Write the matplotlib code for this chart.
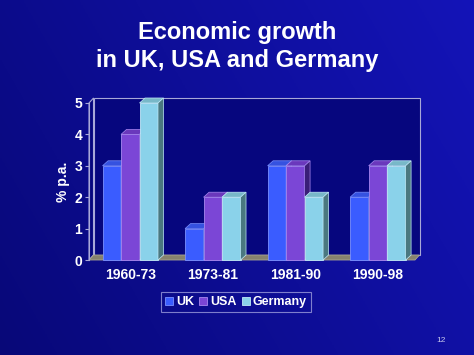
import numpy as np
import matplotlib
matplotlib.use("Agg")
import matplotlib.pyplot as plt
from matplotlib.patches import Polygon, Rectangle
from matplotlib.lines import Line2D

plt.rcParams['font.family'] = ['Liberation Sans', 'DejaVu Sans']

categories = ["1960-73", "1973-81", "1981-90", "1990-98"]
series_names = ["UK", "USA", "Germany"]
uk = [3, 1, 3, 2]
usa = [4, 2, 3, 3]
germany = [5, 2, 2, 3]
yticks = [0, 1, 2, 3, 4, 5]

values = [uk, usa, germany]
front_cols = ["#3a5cff", "#7b46d6", "#8ad2ea"]
top_cols = ["#3552e0", "#6a38bc", "#78b8c8"]
side_cols = ["#1c2a90", "#3a1e78", "#4a7880"]
edge_cols = ["#7a90ff", "#a888f0", "#c0eaf8"]

W, H = 474, 355
fig = plt.figure(figsize=(W / 100, H / 100), dpi=100)

# background gradient
bg = fig.add_axes([0, 0, 1, 1])
bg.set_axis_off()
xx, yy = np.meshgrid(np.linspace(0, 1, 200), np.linspace(0, 1, 150))
t = np.clip(0.7 * xx + 0.3 * yy, 0, 1)
c0 = np.array([0x08, 0x08, 0x78]) / 255
c1 = np.array([0x14, 0x14, 0xb8]) / 255
img = c0[None, None, :] * (1 - t[..., None]) + c1[None, None, :] * t[..., None]
bg.imshow(img, extent=[0, 1, 0, 1], aspect='auto', origin='lower')
bg.set_xlim(0, 1)
bg.set_ylim(0, 1)

left_px, right_px, bottom_px, top_px = 89, 415, 260, 103
ax = fig.add_axes([left_px / W, 1 - bottom_px / H, (right_px - left_px) / W, (bottom_px - top_px) / H])
ax.set_facecolor("none")
xmin, xmax = -0.5, 3.45
ax.set_xlim(xmin, xmax)
ax.set_ylim(0, 5)
for s in ax.spines.values():
    s.set_visible(False)

ppx = (xmax - xmin) / (right_px - left_px)
ppy = 5 / (bottom_px - top_px)
wdx, wdy = 4.5 * ppx, 5 * ppy   # wall depth
bdx, bdy = 5.5 * ppx, 5 * ppy   # bar depth

wall_edge = "#a8a8d8"
wall_face = "#06067e"
# back wall
ax.add_patch(Rectangle((xmin + wdx, wdy), xmax - xmin, 5, facecolor=wall_face,
                       edgecolor=wall_edge, lw=0.8, zorder=1, clip_on=False))
# left wall
ax.add_patch(Polygon([(xmin, 0), (xmin + wdx, wdy), (xmin + wdx, 5 + wdy), (xmin, 5)],
                     closed=True, facecolor=wall_face, edgecolor=wall_edge, lw=0.8,
                     zorder=1, clip_on=False))
# floor
ax.add_patch(Polygon([(xmin, 0), (xmax, 0), (xmax + wdx, wdy), (xmin + wdx, wdy)],
                     closed=True, facecolor="#86826e", edgecolor="#a8a494", lw=0.6,
                     zorder=2, clip_on=False))

bw = 0.224
offsets = [-bw, 0, bw]
x = np.arange(len(categories))
z = 3
for g in range(len(categories)):
    for s in range(3):
        h = values[s][g]
        xc = x[g] + offsets[s]
        ax.bar([xc], [h], width=bw, color=front_cols[s], edgecolor=edge_cols[s],
               lw=0.6, zorder=z, clip_on=False)
        x0 = xc - bw / 2
        ax.add_patch(Polygon([(x0, h), (x0 + bw, h), (x0 + bw + bdx, h + bdy), (x0 + bdx, h + bdy)],
                             closed=True, facecolor=top_cols[s], edgecolor=edge_cols[s],
                             lw=0.5, zorder=z + 0.1, clip_on=False))
        ax.add_patch(Polygon([(x0 + bw, 0), (x0 + bw + bdx, bdy), (x0 + bw + bdx, h + bdy), (x0 + bw, h)],
                             closed=True, facecolor=side_cols[s], edgecolor=edge_cols[s],
                             lw=0.5, zorder=z + 0.2, clip_on=False))
        z += 1

# front left axis line
ax.plot([xmin, xmin], [0, 5], color=wall_edge, lw=0.8, zorder=z, clip_on=False)

ax.set_yticks(yticks)
ax.set_yticklabels([str(v) for v in yticks])
ax.tick_params(axis='y', colors=wall_edge, length=3, width=0.8, pad=2,
               labelcolor='white', labelsize=10)
ax.set_xticks(x)
ax.set_xticklabels(categories)
ax.tick_params(axis='x', length=0, pad=6, labelcolor='white', labelsize=10)
for lab in ax.get_xticklabels() + ax.get_yticklabels():
    lab.set_fontweight('bold')
ax.set_ylabel("% p.a.", color='white', fontsize=10, fontweight='bold', labelpad=3)

# legend
handles = [Line2D([], [], marker='s', linestyle='none', markersize=6,
                  markerfacecolor=front_cols[i], markeredgecolor=edge_cols[i], markeredgewidth=0.6)
           for i in range(3)]
leg = fig.legend(handles, series_names, loc='center', bbox_to_anchor=(236 / W, 1 - 302 / H),
                 ncol=3, frameon=True, handlelength=0.6, handletextpad=0.25, columnspacing=0.45,
                 borderpad=0.3, prop={'weight': 'bold', 'size': 9})
leg.get_frame().set_facecolor('none')
leg.get_frame().set_edgecolor('#9c9cdc')
leg.get_frame().set_linewidth(0.8)
leg.get_frame().set_boxstyle('square', pad=0.0)
for txt in leg.get_texts():
    txt.set_color('white')

# title
fig.text(0.5, 1 - 32 / H, "Economic growth", ha='center', va='center', color='white',
         fontsize=17, fontweight='bold')
fig.text(0.5, 1 - 60 / H, "in UK, USA and Germany", ha='center', va='center', color='white',
         fontsize=17, fontweight='bold')
fig.text(441 / W, 1 - 340 / H, "12", ha='center', va='center', color='#c8c8ec', fontsize=6)

fig.savefig("out.png", dpi=100)
